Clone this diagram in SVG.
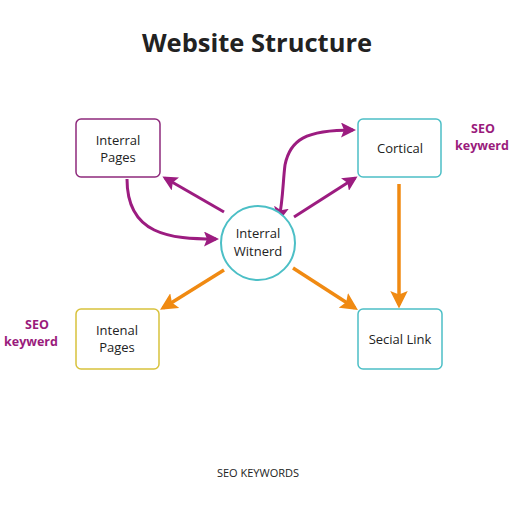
<svg xmlns="http://www.w3.org/2000/svg" width="512" height="512" viewBox="0 0 512 512">
<style>
.t{font-family:"Open Sans","DejaVu Sans",sans-serif;fill:#222;text-anchor:middle}
.n{font-size:13px}
.kw{font-family:"Open Sans","DejaVu Sans",sans-serif;font-weight:bold;font-size:12.5px;fill:#9a1b7c;text-anchor:middle}
.p{stroke:#9c1c80;stroke-width:3;fill:none}
.o{stroke:#f08a12;stroke-width:3.5;fill:none}
</style>
<defs>
<marker id="hp" viewBox="0 0 10 10" refX="8" refY="5" markerWidth="5" markerHeight="5" orient="auto-start-reverse" markerUnits="strokeWidth"><path d="M0,0 L10,5 L0,10 L2,5 Z" fill="#9c1c80"/></marker>
<marker id="ho" viewBox="0 0 10 10" refX="8" refY="5" markerWidth="5" markerHeight="5" orient="auto" markerUnits="strokeWidth"><path d="M0,0 L10,5 L0,10 L2,5 Z" fill="#f08a12"/></marker>
</defs>
<rect width="512" height="512" fill="#fff"/>
<text class="t" x="257" y="52" font-size="25.5" font-weight="bold" fill="#222">Website Structure</text>
<g id="connectors">
<path class="p" d="M224,212 L165,178" marker-end="url(#hp)"/>
<path class="p" d="M127,179 C127,235 170,239 216,239" marker-end="url(#hp)"/>
<path class="p" d="M279,219 C283,200 283,180 285,165 C290,140 305,130 353,130" marker-start="url(#hp)" marker-end="url(#hp)"/>
<path class="p" d="M294,217 L355,178" marker-end="url(#hp)"/>
<path class="o" d="M224,270 L163,308" marker-end="url(#ho)"/>
<path class="o" d="M293,268 L355,308" marker-end="url(#ho)"/>
<path class="o" d="M399,184 L399,305" marker-end="url(#ho)"/>
</g>
<g id="node-internal-pages">
<rect x="76" y="119" width="84" height="58" rx="5" fill="#fff" stroke="#8e2a7c" stroke-width="1.5"/>
<text class="t n" x="118" y="145">Interral</text>
<text class="t n" x="118" y="162">Pages</text>
</g>
<g id="node-center">
<circle cx="258" cy="243" r="37" fill="#fff" stroke="#4cbfc6" stroke-width="2"/>
<text class="t n" x="258" y="238">Interral</text>
<text class="t n" x="258" y="256">Witnerd</text>
</g>
<g id="node-cortical">
<rect x="358" y="119" width="83" height="58" rx="5" fill="#fff" stroke="#4cbfc6" stroke-width="1.5"/>
<text class="t n" x="400" y="153">Cortical</text>
</g>
<g id="label-seo-right">
<text class="kw" x="483" y="133">SEO</text>
<text class="kw" x="482" y="150">keywerd</text>
</g>
<g id="node-internal-pages-2">
<rect x="76" y="309" width="83" height="60" rx="5" fill="#fff" stroke="#d8c23c" stroke-width="1.5"/>
<text class="t n" x="117" y="335">Intenal</text>
<text class="t n" x="117" y="352">Pages</text>
</g>
<g id="label-seo-left">
<text class="kw" x="37" y="329">SEO</text>
<text class="kw" x="31" y="346">keywerd</text>
</g>
<g id="node-social">
<rect x="358" y="309" width="84" height="60" rx="5" fill="#fff" stroke="#4cbfc6" stroke-width="1.5"/>
<text class="t n" x="400" y="344">Secial Link</text>
</g>
<text class="t" x="258" y="477" font-size="11" fill="#444">SEO KEYWORDS</text>
</svg>
